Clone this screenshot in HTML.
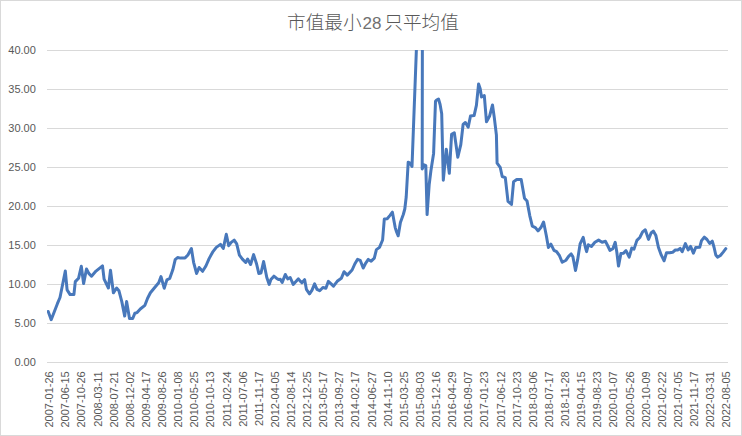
<!DOCTYPE html><html><head><meta charset="utf-8"><style>html,body{margin:0;padding:0;background:#fff;}svg{display:block;}</style></head><body>
<svg width="742" height="436" viewBox="0 0 742 436">
<rect x="0" y="0" width="742" height="436" fill="#fff"/>
<rect x="0.5" y="0.5" width="741" height="435" fill="none" stroke="#d9d9d9" stroke-width="1"/>
<line x1="47" y1="50.5" x2="728" y2="50.5" stroke="#d9d9d9" stroke-width="1"/>
<line x1="47" y1="89.5" x2="728" y2="89.5" stroke="#d9d9d9" stroke-width="1"/>
<line x1="47" y1="128.5" x2="728" y2="128.5" stroke="#d9d9d9" stroke-width="1"/>
<line x1="47" y1="167.5" x2="728" y2="167.5" stroke="#d9d9d9" stroke-width="1"/>
<line x1="47" y1="206.5" x2="728" y2="206.5" stroke="#d9d9d9" stroke-width="1"/>
<line x1="47" y1="245.5" x2="728" y2="245.5" stroke="#d9d9d9" stroke-width="1"/>
<line x1="47" y1="284.5" x2="728" y2="284.5" stroke="#d9d9d9" stroke-width="1"/>
<line x1="47" y1="323.5" x2="728" y2="323.5" stroke="#d9d9d9" stroke-width="1"/>
<line x1="47" y1="362.5" x2="728" y2="362.5" stroke="#d9d9d9" stroke-width="1"/>
<text y="28.5" font-family="'Liberation Sans', 'Noto Sans CJK SC', sans-serif" font-size="18.67" font-weight="300" fill="#595959"><tspan x="287">市值最小</tspan><tspan x="362.5" font-size="17" fill="#707070">28</tspan><tspan x="384.3">只平均值</tspan></text>
<text x="35.8" y="54.00" text-anchor="end" font-family='"Liberation Sans", sans-serif' font-size="11.0" fill="#595959">40.00</text>
<text x="35.8" y="93.00" text-anchor="end" font-family='"Liberation Sans", sans-serif' font-size="11.0" fill="#595959">35.00</text>
<text x="35.8" y="132.00" text-anchor="end" font-family='"Liberation Sans", sans-serif' font-size="11.0" fill="#595959">30.00</text>
<text x="35.8" y="171.00" text-anchor="end" font-family='"Liberation Sans", sans-serif' font-size="11.0" fill="#595959">25.00</text>
<text x="35.8" y="210.00" text-anchor="end" font-family='"Liberation Sans", sans-serif' font-size="11.0" fill="#595959">20.00</text>
<text x="35.8" y="249.00" text-anchor="end" font-family='"Liberation Sans", sans-serif' font-size="11.0" fill="#595959">15.00</text>
<text x="35.8" y="288.00" text-anchor="end" font-family='"Liberation Sans", sans-serif' font-size="11.0" fill="#595959">10.00</text>
<text x="35.8" y="327.00" text-anchor="end" font-family='"Liberation Sans", sans-serif' font-size="11.0" fill="#595959">5.00</text>
<text x="35.8" y="366.00" text-anchor="end" font-family='"Liberation Sans", sans-serif' font-size="11.0" fill="#595959">0.00</text>
<text transform="translate(53.20,371.30) rotate(-90)" text-anchor="end" font-family='"Liberation Sans", sans-serif' font-size="11.0" fill="#595959">2007-01-26</text>
<text transform="translate(69.32,371.30) rotate(-90)" text-anchor="end" font-family='"Liberation Sans", sans-serif' font-size="11.0" fill="#595959">2007-06-15</text>
<text transform="translate(85.44,371.30) rotate(-90)" text-anchor="end" font-family='"Liberation Sans", sans-serif' font-size="11.0" fill="#595959">2007-10-26</text>
<text transform="translate(101.56,371.30) rotate(-90)" text-anchor="end" font-family='"Liberation Sans", sans-serif' font-size="11.0" fill="#595959">2008-03-11</text>
<text transform="translate(117.68,371.30) rotate(-90)" text-anchor="end" font-family='"Liberation Sans", sans-serif' font-size="11.0" fill="#595959">2008-07-21</text>
<text transform="translate(133.80,371.30) rotate(-90)" text-anchor="end" font-family='"Liberation Sans", sans-serif' font-size="11.0" fill="#595959">2008-12-02</text>
<text transform="translate(149.92,371.30) rotate(-90)" text-anchor="end" font-family='"Liberation Sans", sans-serif' font-size="11.0" fill="#595959">2009-04-17</text>
<text transform="translate(166.04,371.30) rotate(-90)" text-anchor="end" font-family='"Liberation Sans", sans-serif' font-size="11.0" fill="#595959">2009-08-26</text>
<text transform="translate(182.16,371.30) rotate(-90)" text-anchor="end" font-family='"Liberation Sans", sans-serif' font-size="11.0" fill="#595959">2010-01-08</text>
<text transform="translate(198.28,371.30) rotate(-90)" text-anchor="end" font-family='"Liberation Sans", sans-serif' font-size="11.0" fill="#595959">2010-05-25</text>
<text transform="translate(214.40,371.30) rotate(-90)" text-anchor="end" font-family='"Liberation Sans", sans-serif' font-size="11.0" fill="#595959">2010-10-13</text>
<text transform="translate(230.52,371.30) rotate(-90)" text-anchor="end" font-family='"Liberation Sans", sans-serif' font-size="11.0" fill="#595959">2011-02-24</text>
<text transform="translate(246.64,371.30) rotate(-90)" text-anchor="end" font-family='"Liberation Sans", sans-serif' font-size="11.0" fill="#595959">2011-07-06</text>
<text transform="translate(262.76,371.30) rotate(-90)" text-anchor="end" font-family='"Liberation Sans", sans-serif' font-size="11.0" fill="#595959">2011-11-17</text>
<text transform="translate(278.88,371.30) rotate(-90)" text-anchor="end" font-family='"Liberation Sans", sans-serif' font-size="11.0" fill="#595959">2012-04-05</text>
<text transform="translate(295.00,371.30) rotate(-90)" text-anchor="end" font-family='"Liberation Sans", sans-serif' font-size="11.0" fill="#595959">2012-08-14</text>
<text transform="translate(311.12,371.30) rotate(-90)" text-anchor="end" font-family='"Liberation Sans", sans-serif' font-size="11.0" fill="#595959">2012-12-25</text>
<text transform="translate(327.24,371.30) rotate(-90)" text-anchor="end" font-family='"Liberation Sans", sans-serif' font-size="11.0" fill="#595959">2013-05-17</text>
<text transform="translate(343.36,371.30) rotate(-90)" text-anchor="end" font-family='"Liberation Sans", sans-serif' font-size="11.0" fill="#595959">2013-09-27</text>
<text transform="translate(359.48,371.30) rotate(-90)" text-anchor="end" font-family='"Liberation Sans", sans-serif' font-size="11.0" fill="#595959">2014-02-17</text>
<text transform="translate(375.60,371.30) rotate(-90)" text-anchor="end" font-family='"Liberation Sans", sans-serif' font-size="11.0" fill="#595959">2014-06-27</text>
<text transform="translate(391.72,371.30) rotate(-90)" text-anchor="end" font-family='"Liberation Sans", sans-serif' font-size="11.0" fill="#595959">2014-11-10</text>
<text transform="translate(407.84,371.30) rotate(-90)" text-anchor="end" font-family='"Liberation Sans", sans-serif' font-size="11.0" fill="#595959">2015-03-25</text>
<text transform="translate(423.96,371.30) rotate(-90)" text-anchor="end" font-family='"Liberation Sans", sans-serif' font-size="11.0" fill="#595959">2015-08-03</text>
<text transform="translate(440.08,371.30) rotate(-90)" text-anchor="end" font-family='"Liberation Sans", sans-serif' font-size="11.0" fill="#595959">2015-12-16</text>
<text transform="translate(456.20,371.30) rotate(-90)" text-anchor="end" font-family='"Liberation Sans", sans-serif' font-size="11.0" fill="#595959">2016-04-29</text>
<text transform="translate(472.32,371.30) rotate(-90)" text-anchor="end" font-family='"Liberation Sans", sans-serif' font-size="11.0" fill="#595959">2016-09-07</text>
<text transform="translate(488.44,371.30) rotate(-90)" text-anchor="end" font-family='"Liberation Sans", sans-serif' font-size="11.0" fill="#595959">2017-01-23</text>
<text transform="translate(504.56,371.30) rotate(-90)" text-anchor="end" font-family='"Liberation Sans", sans-serif' font-size="11.0" fill="#595959">2017-06-12</text>
<text transform="translate(520.68,371.30) rotate(-90)" text-anchor="end" font-family='"Liberation Sans", sans-serif' font-size="11.0" fill="#595959">2017-10-23</text>
<text transform="translate(536.80,371.30) rotate(-90)" text-anchor="end" font-family='"Liberation Sans", sans-serif' font-size="11.0" fill="#595959">2018-03-06</text>
<text transform="translate(552.92,371.30) rotate(-90)" text-anchor="end" font-family='"Liberation Sans", sans-serif' font-size="11.0" fill="#595959">2018-07-17</text>
<text transform="translate(569.04,371.30) rotate(-90)" text-anchor="end" font-family='"Liberation Sans", sans-serif' font-size="11.0" fill="#595959">2018-11-28</text>
<text transform="translate(585.16,371.30) rotate(-90)" text-anchor="end" font-family='"Liberation Sans", sans-serif' font-size="11.0" fill="#595959">2019-04-15</text>
<text transform="translate(601.28,371.30) rotate(-90)" text-anchor="end" font-family='"Liberation Sans", sans-serif' font-size="11.0" fill="#595959">2019-08-23</text>
<text transform="translate(617.40,371.30) rotate(-90)" text-anchor="end" font-family='"Liberation Sans", sans-serif' font-size="11.0" fill="#595959">2020-01-07</text>
<text transform="translate(633.52,371.30) rotate(-90)" text-anchor="end" font-family='"Liberation Sans", sans-serif' font-size="11.0" fill="#595959">2020-05-26</text>
<text transform="translate(649.64,371.30) rotate(-90)" text-anchor="end" font-family='"Liberation Sans", sans-serif' font-size="11.0" fill="#595959">2020-10-09</text>
<text transform="translate(665.76,371.30) rotate(-90)" text-anchor="end" font-family='"Liberation Sans", sans-serif' font-size="11.0" fill="#595959">2021-02-22</text>
<text transform="translate(681.88,371.30) rotate(-90)" text-anchor="end" font-family='"Liberation Sans", sans-serif' font-size="11.0" fill="#595959">2021-07-05</text>
<text transform="translate(698.00,371.30) rotate(-90)" text-anchor="end" font-family='"Liberation Sans", sans-serif' font-size="11.0" fill="#595959">2021-11-17</text>
<text transform="translate(714.12,371.30) rotate(-90)" text-anchor="end" font-family='"Liberation Sans", sans-serif' font-size="11.0" fill="#595959">2022-03-31</text>
<text transform="translate(730.24,371.30) rotate(-90)" text-anchor="end" font-family='"Liberation Sans", sans-serif' font-size="11.0" fill="#595959">2022-08-05</text>
<defs><clipPath id="pa"><rect x="47" y="50" width="681" height="313"/></clipPath></defs>
<polyline clip-path="url(#pa)" points="48.2,311.5 51.2,319.7 57.4,303.7 60.0,297.5 61.6,289.5 63.4,280.5 65.3,271.0 67.1,289.9 70.1,294.6 73.9,294.6 75.3,281.6 78.6,278.2 81.3,266.3 83.6,283.6 86.5,269.0 88.8,273.4 91.5,276.2 96.0,271.1 102.5,265.9 104.1,279.1 108.4,288.0 110.5,270.3 113.4,292.8 116.6,288.0 118.9,290.7 121.8,301.6 124.7,316.1 126.6,301.6 129.5,318.5 132.7,318.5 134.9,313.2 137.1,312.6 140.3,309.0 144.9,305.3 147.6,298.3 150.4,292.8 154.1,288.2 158.7,282.7 161.0,276.6 164.2,288.2 166.9,279.9 169.7,278.5 172.8,269.8 175.2,259.7 177.6,257.5 180.5,258.1 185.0,258.1 187.9,254.9 191.4,248.6 193.6,262.3 196.6,273.5 199.1,267.5 202.6,271.3 205.9,266.0 209.1,258.6 212.6,252.2 216.3,247.4 220.5,244.4 223.3,248.4 226.3,234.2 228.7,245.7 231.2,242.4 234.2,240.1 236.7,243.9 239.4,255.1 242.4,259.1 245.7,262.5 247.6,259.1 250.6,264.5 253.6,254.6 256.6,264.0 258.8,273.4 261.0,273.0 263.6,261.5 266.8,277.5 269.2,284.4 270.9,279.6 273.9,276.2 276.4,278.2 278.5,279.6 280.3,279.2 282.2,282.4 285.3,274.5 287.7,278.9 290.2,277.5 293.2,284.4 295.7,281.7 298.4,278.9 300.5,281.4 301.9,282.8 304.6,279.6 306.4,289.3 309.5,293.8 311.9,290.3 314.6,283.8 317.0,289.3 319.7,290.7 322.9,287.5 325.9,288.2 328.4,281.3 331.1,283.8 333.5,286.1 337.2,281.3 341.3,278.3 344.1,271.7 347.3,275.1 352.1,270.0 354.8,264.0 357.6,259.3 360.2,260.3 363.2,268.0 365.4,263.7 368.3,259.4 371.2,261.2 374.3,258.2 376.4,249.6 379.5,247.4 382.6,240.0 384.3,219.1 387.2,218.7 389.8,215.6 392.4,212.2 395.2,227.6 396.6,232.0 398.2,235.8 400.4,222.5 403.3,214.5 404.8,209.0 406.2,197.0 408.2,162.2 410.0,163.0 412.0,166.5 417.5,20.0 422.4,20.0 422.2,169.0 424.1,164.8 425.8,165.6 427.1,214.6 429.2,184.5 430.9,170.8 433.6,153.4 435.5,101.2 436.6,100.0 438.5,99.0 440.1,104.5 441.7,113.7 443.3,180.2 446.3,149.2 449.3,173.3 451.6,134.3 454.3,132.7 457.8,157.2 460.8,144.6 463.1,124.5 465.4,122.5 468.2,127.3 470.5,116.0 474.1,115.6 476.4,105.3 478.6,84.0 480.2,88.8 481.5,97.0 484.3,95.6 486.5,121.8 489.5,116.3 492.5,105.0 494.3,117.6 496.4,135.0 497.1,163.1 500.2,167.3 502.2,176.5 505.3,177.6 508.0,201.3 511.5,204.4 513.6,181.7 516.7,179.6 521.2,179.6 524.5,198.2 527.0,200.9 529.8,215.8 532.3,226.2 535.4,227.6 538.0,230.9 540.9,227.6 543.6,222.0 546.3,235.5 548.4,247.4 550.9,244.1 554.0,250.3 556.6,251.6 559.5,255.7 562.2,262.3 566.0,260.2 568.6,256.3 571.2,253.9 572.9,256.8 575.5,270.5 577.7,259.4 580.1,243.9 583.2,237.4 585.2,246.5 586.6,251.6 588.3,244.8 591.4,246.5 594.9,242.2 598.6,240.1 602.1,242.2 605.5,241.3 608.1,246.5 609.9,250.4 612.8,248.8 615.2,242.3 616.8,252.0 618.5,266.1 620.9,253.6 623.3,253.3 626.0,250.7 629.2,257.1 631.8,248.0 634.0,249.1 636.9,240.4 639.8,237.5 642.6,231.9 645.3,229.8 648.5,239.4 651.1,233.0 653.3,231.1 655.9,235.6 658.4,247.2 661.3,255.2 664.1,260.8 666.5,252.8 669.7,252.8 672.6,252.3 675.3,250.0 677.7,250.0 680.1,248.4 682.2,251.7 685.4,243.6 688.2,250.0 690.6,246.4 693.4,253.2 695.7,247.5 699.7,247.3 701.5,240.6 704.3,237.2 707.0,239.5 709.7,243.5 712.3,241.2 714.1,247.5 715.8,255.0 717.5,257.2 720.4,255.5 723.2,252.1 725.8,248.7" fill="none" stroke="#4878bb" stroke-width="3.0" stroke-linejoin="round" stroke-linecap="round"/>
</svg></body></html>
